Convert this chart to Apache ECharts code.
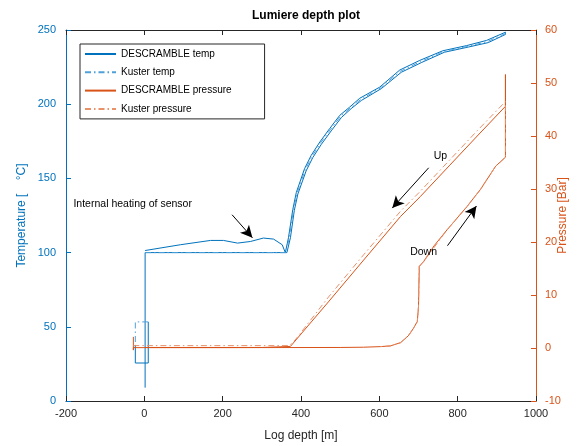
<!DOCTYPE html>
<html>
<head>
<meta charset="utf-8">
<script src="https://cdn.jsdelivr.net/npm/echarts@6/dist/echarts.min.js"></script>
<style>html,body{margin:0;padding:0;background:#fff}#c{width:579px;height:446px}</style>
</head>
<body>
<div id="c"></div>
<script>
// ---- data ----
const titleText = 'Lumiere depth plot';
const xName = 'Log depth [m]';
const yLeftName = 'Temperature [    \u00B0C]';
const yRightName = 'Pressure [Bar]';
const legendNames = ['DESCRAMBLE temp', 'Kuster temp', 'DESCRAMBLE pressure', 'Kuster pressure'];

// DESCRAMBLE temp: small box near surface
const descTempBoxDepth = [-23, -23, 10, 10];
const descTempBoxValue = [37.8, 25.6, 25.6, 53.3];
// DESCRAMBLE temp: main run (down then up)
const descTempDepth = [2, 2, 60, 150, 250, 330, 364, 373, 383, 392, 413, 430, 452, 477, 503, 528, 554, 605, 656, 707, 766, 827, 878, 922,
  922, 874, 823, 762, 703, 652, 601, 550, 524, 499, 473, 448, 426, 409, 388, 379, 368, 360,
  352, 330, 304, 271, 238, 202, 169, 92, 2];
const descTempValue = [9, 100, 100, 100, 100, 100, 100, 110, 128.5, 139.5, 155, 164, 173, 182, 191, 197, 202.5, 210.5, 221.5, 228, 235, 238.5, 241.5, 247,
  248.5, 243, 239.5, 236, 229.5, 223, 211.5, 204, 198, 192.5, 183.5, 174.5, 165.5, 156.5, 140.5, 129, 110, 100,
  105.3, 109.1, 109.8, 107.5, 106.4, 108.2, 108.2, 105.3, 101.4];

// Kuster temp
const kusTempBoxDepth = [10, -23, -23];
const kusTempBoxValue = [53.3, 53.3, 37.8];
const kusTempDepth = [2, 362, 370, 381, 390, 411, 428, 450, 475, 501, 526, 552, 603, 654, 705, 764, 825, 876, 922];
const kusTempValue = [100, 100, 110, 128.9, 140.1, 155.9, 164.8, 173.9, 182.9, 191.8, 197.5, 203.1, 211, 222.2, 228.7, 235.5, 238.9, 242.2, 247.6];

// DESCRAMBLE pressure (down path, bottom spike, up path)
const descPresDepth = [-28, -28, -28, 200, 500, 560, 603, 628, 654, 674, 687, 697, 700, 702, 713, 740, 773, 824, 858, 897, 922,
  922, 922, 850, 780, 705, 654, 560, 470, 373, 300, 2];
const descPresValue = [2.1, -0.4, 0.07, 0.07, 0.1, 0.15, 0.26, 0.39, 1.0, 2.3, 3.7, 5.0, 7.8, 15.4, 16.3, 19.3, 22.3, 26.7, 29.9, 34.3, 36.0,
  51.6, 45.6, 40, 34.5, 28.6, 24.8, 16.6, 8.7, 0.3, 0.1, 0.1];

// Kuster pressure
const kusPresDepth = [-28, 370, 385, 470, 560, 654, 705, 780, 850, 922, 922, 897, 858, 824, 773, 713, 702, 700, 697, 687, 674, 654, 628, 603];
const kusPresValue = [0.45, 0.45, 1.5, 9.6, 17.6, 25.8, 29.6, 35.5, 41, 46.5, 36.0, 34.3, 29.9, 26.7, 22.3, 16.3, 15.4, 7.8, 5.0, 3.7, 2.3, 1.0, 0.39, 0.26];

// annotations (data coordinates)
const heatText = 'Internal heating of sensor';
const heatTextPos = [-181, 133];
const heatArrow = [[224, 125.5], [276, 110]];
const upText = 'Up';
const upTextPos = [756, 36.3];
const upArrow = [[726, 34.0], [633, 26.4]];
const downText = 'Down';
const downTextPos = [713, 18.0];
const downArrow = [[774, 19.3], [848, 26.8]];

// ---- build ----
const zip = (a, b) => a.map((v, i) => [v, b[i]]);
const FONT = 'Liberation Sans, Arial, Helvetica, sans-serif';
const BLUE = '#0072BD', BLUE_L = '#4FA0D8', ORANGE = '#D95319', ORANGE_L = '#E8916B', DARK = '#262626';
const dashDot = [6, 3, 1.5, 3];

function lineSeries(name, data, color, type, yIdx) {
  return { name, type: 'line', data, xAxisIndex: 0, yAxisIndex: yIdx, symbol: 'none', showSymbol: false,
    lineStyle: { color, width: 1, type }, itemStyle: { color }, silent: true, z: 2 };
}

const chart = echarts.init(document.getElementById('c'), null, { renderer: 'canvas' });
chart.setOption({
  animation: false,
  backgroundColor: '#fff',
  textStyle: { fontFamily: FONT },
  title: { text: titleText, left: 301, top: 5, textAlign: 'center',
    textStyle: { fontSize: 12, fontWeight: 'bold', color: '#000', fontFamily: FONT } },
  grid: { left: 66, right: 43, top: 30, bottom: 45, containLabel: false, outerBoundsMode: 'none' },
  legend: { data: legendNames, orient: 'vertical', left: 80, top: 44, itemWidth: 31, itemHeight: 10, itemGap: 8.3,
    padding: [5, 33, 5, 4], borderColor: DARK, borderWidth: 1, backgroundColor: '#fff', selectedMode: false,
    itemStyle: { opacity: 0, borderWidth: 0 },
    textStyle: { fontSize: 10, color: '#000', fontFamily: FONT } },
  xAxis: [
    { type: 'value', position: 'bottom', min: -200, max: 1000, interval: 200,
      name: xName, nameLocation: 'middle', nameGap: 29, nameMoveOverlap: false, nameTextStyle: { fontSize: 12, color: DARK },
      axisLine: { show: true, onZero: false, lineStyle: { color: DARK, width: 1 } },
      axisTick: { show: true, inside: true, length: 5, lineStyle: { color: DARK } },
      axisLabel: { fontSize: 11, color: DARK, margin: 7, formatter: v => String(v) }, splitLine: { show: false } },
    { type: 'value', position: 'top', min: -200, max: 1000, interval: 200,
      axisLine: { show: true, onZero: false, lineStyle: { color: DARK, width: 1 } },
      axisTick: { show: true, inside: true, length: 5, lineStyle: { color: DARK } },
      axisLabel: { show: false }, splitLine: { show: false } }
  ],
  yAxis: [
    { type: 'value', position: 'left', min: 0, max: 250, interval: 50,
      name: yLeftName, nameLocation: 'middle', nameGap: 38, nameMoveOverlap: false, nameTextStyle: { fontSize: 12, color: BLUE },
      axisLine: { show: true, onZero: false, lineStyle: { color: BLUE, width: 1 } },
      axisTick: { show: true, inside: true, length: 5, lineStyle: { color: BLUE } },
      axisLabel: { fontSize: 11, color: BLUE, margin: 10 }, splitLine: { show: false } },
    { type: 'value', position: 'right', min: -10, max: 60, interval: 10,
      name: yRightName, nameLocation: 'middle', nameGap: 21, nameMoveOverlap: false, nameTextStyle: { fontSize: 12, color: ORANGE },
      axisLine: { show: true, onZero: false, lineStyle: { color: ORANGE, width: 1 } },
      axisTick: { show: true, inside: true, length: 5, lineStyle: { color: ORANGE } },
      axisLabel: { fontSize: 11, color: ORANGE, margin: 9 }, splitLine: { show: false } }
  ],
  series: [
    lineSeries(legendNames[0], zip(descTempDepth, descTempValue), BLUE, 'solid', 0),
    lineSeries(legendNames[0], zip(descTempBoxDepth, descTempBoxValue), BLUE, 'solid', 0),
    lineSeries(legendNames[1], zip(kusTempDepth, kusTempValue), BLUE_L, dashDot, 0),
    lineSeries(legendNames[1], zip(kusTempBoxDepth, kusTempBoxValue), BLUE_L, dashDot, 0),
    lineSeries(legendNames[2], zip(descPresDepth, descPresValue), ORANGE, 'solid', 1),
    lineSeries(legendNames[3], zip(kusPresDepth, kusPresValue), ORANGE_L, dashDot, 1),
    { name: '_annotT', type: 'scatter', xAxisIndex: 0, yAxisIndex: 0, data: [], silent: true, z: 5,
      markLine: { silent: true, animation: false, symbol: ['none', 'arrow'], symbolSize: [9, 12],
        lineStyle: { color: '#000', width: 1, type: 'solid' }, label: { show: false },
        data: [[{ coord: heatArrow[0] }, { coord: heatArrow[1] }]] },
      markPoint: { silent: true, animation: false, symbol: 'circle', symbolSize: 0,
        data: [{ coord: heatTextPos, label: { show: true, position: [0, 0], align: 'left', verticalAlign: 'middle',
          formatter: heatText, fontSize: 10.5, color: '#000', fontFamily: FONT } }] } },
    { name: '_annotP', type: 'scatter', xAxisIndex: 0, yAxisIndex: 1, data: [], silent: true, z: 5,
      markLine: { silent: true, animation: false, symbol: ['none', 'arrow'], symbolSize: [9, 12],
        lineStyle: { color: '#000', width: 1, type: 'solid' }, label: { show: false },
        data: [[{ coord: upArrow[0] }, { coord: upArrow[1] }], [{ coord: downArrow[0] }, { coord: downArrow[1] }]] },
      markPoint: { silent: true, animation: false, symbol: 'circle', symbolSize: 0,
        data: [
          { coord: upTextPos, label: { show: true, position: [0, 0], align: 'center', verticalAlign: 'middle',
            formatter: upText, fontSize: 10.5, color: '#000', fontFamily: FONT } },
          { coord: downTextPos, label: { show: true, position: [0, 0], align: 'center', verticalAlign: 'middle',
            formatter: downText, fontSize: 10.5, color: '#000', fontFamily: FONT } }
        ] } }
  ]
});
</script>
</body>
</html>
